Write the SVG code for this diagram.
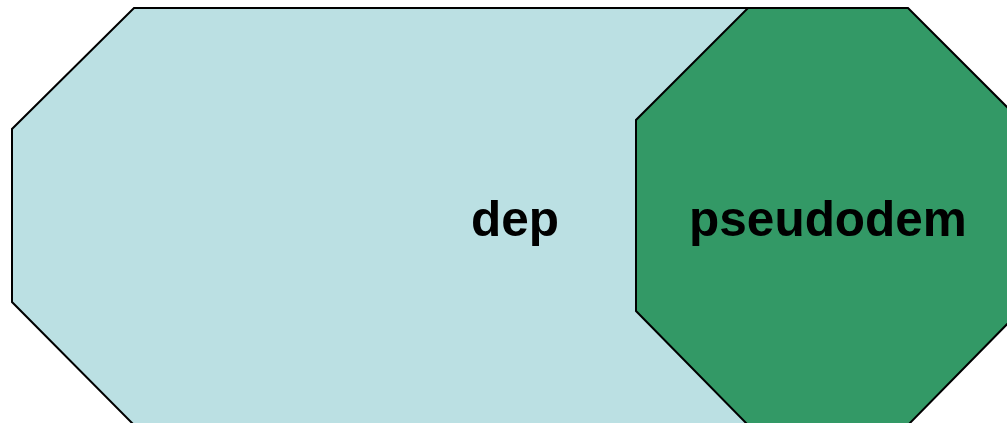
<svg xmlns="http://www.w3.org/2000/svg" width="1007" height="423" viewBox="0 0 1007 423">
<style>
.oct{stroke:#000;stroke-width:2}
.lbl{font-family:"Liberation Sans",Arial,sans-serif;font-weight:bold;font-size:49.5px;fill:#000;text-anchor:middle}
</style>
<rect width="1007" height="423" fill="#fff"/>
<g id="dep">
<polygon class="oct" fill="#bbe0e3" points="134,8 896,8 1018,130 1018,302 896,425 134,425 12,302 12,129"/>
<text class="lbl" x="515" y="236">dep</text>
</g>
<g id="pseudodem">
<polygon class="oct" fill="#339966" points="748,8 908,8 1020,120 1020,311 908,425 748,425 636,311 636,120"/>
<text class="lbl" x="828" y="236">pseudodem</text>
</g>
<g id="connectors"></g>
</svg>
